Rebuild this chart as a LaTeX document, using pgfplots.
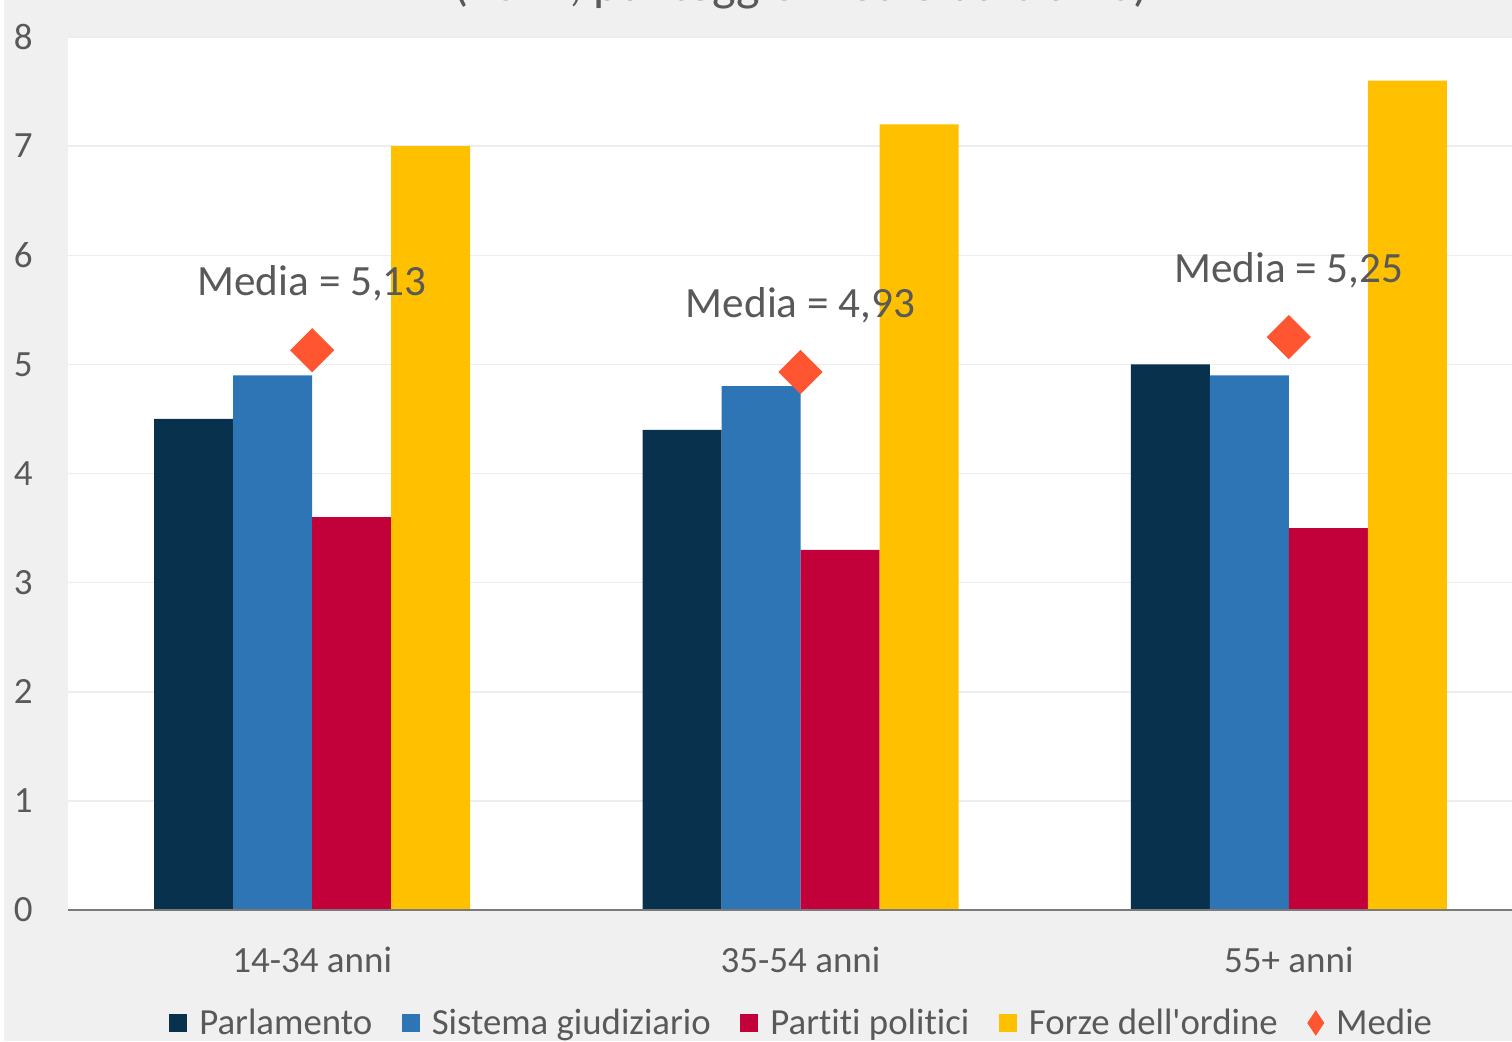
\documentclass[border=0pt]{standalone}
\usepackage{pgfplots}
\pgfplotsset{compat=1.18}
\usepackage{fontspec}
\setmainfont{Carlito}[Ligatures={NoCommon,TeXOff}]

\definecolor{cParl}{HTML}{07314C}
\definecolor{cSist}{HTML}{2E75B6}
\definecolor{cPart}{HTML}{C20039}
\definecolor{cForz}{HTML}{FFC000}
\definecolor{cMed}{HTML}{FF5530}
\definecolor{bggray}{HTML}{F0F0F0}
\definecolor{txtgray}{HTML}{595959}
\definecolor{gridgray}{HTML}{EDEDED}
\definecolor{axisgray}{HTML}{7A7A7A}

\begin{document}
\begin{tikzpicture}
% sfondo grigio della figura
\fill[bggray] (0,0) rectangle (756pt,520.5pt);
\fill[white] (0,0) rectangle (2pt,520.5pt);

\begin{axis}[
    at={(34pt,65.5pt)}, anchor=south west,
    scale only axis, width=732.5pt, height=436.5pt,
    xmin=-0.5, xmax=2.5, ymin=0, ymax=8,
    axis background/.style={fill=white},
    axis line style={draw=none},
    major tick length=0pt,
    xtick={0,1,2},
    xticklabels={14-34 anni,35-54 anni,55+ anni},
    ytick={0,1,...,8},
    ymajorgrids,
    grid style={line width=0.75pt, color=gridgray},
    /pgf/number format/assume math mode=true,
    tick label style={font=\fontsize{18.5}{22}\selectfont, text=txtgray},
    xticklabel style={anchor=base, inner sep=0pt, yshift=-31pt},
    yticklabel style={anchor=east, inner sep=0pt, xshift=-17.5pt},
    legend columns=5,
    legend style={
        at={(0.0689,-0.1294)}, anchor=west,
        draw=none, fill=none, inner sep=0pt,
        font=\fontsize{18.4}{22}\selectfont, text=txtgray,
        nodes={inner sep=0pt},
        /tikz/every odd column/.append style={column sep=6pt},
        /tikz/every even column/.append style={column sep=14.8pt},
    },
]

%%%%%%%%%% Parlamento %%%%%%%%%%
\addplot[ybar, bar width=39.5pt, bar shift=-59.25pt, fill=cParl, draw=none,
    legend image code/.code={\fill[cParl] (0pt,-4.5pt) rectangle (9pt,4.5pt);}]
    coordinates {(0,4.5) (1,4.4) (2,5.0)};
\addlegendentry{Parlamento}

%%%%%%%%%% Sistema giudiziario %%%%%%%%%%
\addplot[ybar, bar width=39.5pt, bar shift=-19.75pt, fill=cSist, draw=none,
    legend image code/.code={\fill[cSist] (0pt,-4.5pt) rectangle (9pt,4.5pt);}]
    coordinates {(0,4.9) (1,4.8) (2,4.9)};
\addlegendentry{Sistema giudiziario}

%%%%%%%%%% Partiti politici %%%%%%%%%%
\addplot[ybar, bar width=39.5pt, bar shift=19.75pt, fill=cPart, draw=none,
    legend image code/.code={\fill[cPart] (0pt,-4.5pt) rectangle (9pt,4.5pt);}]
    coordinates {(0,3.6) (1,3.3) (2,3.5)};
\addlegendentry{Partiti politici}

%%%%%%%%%% Forze dell'ordine %%%%%%%%%%
\addplot[ybar, bar width=39.5pt, bar shift=59.25pt, fill=cForz, draw=none,
    legend image code/.code={\fill[cForz] (0pt,-4.5pt) rectangle (9pt,4.5pt);}]
    coordinates {(0,7.0) (1,7.2) (2,7.6)};
\addlegendentry{Forze dell'ordine}

%%%%%%%%%% Medie %%%%%%%%%%
\addplot[only marks, mark=square*, mark size=7.6pt,
    mark options={rotate=45, fill=cMed, draw=none}, color=cMed,
    legend image code/.code={\fill[cMed] (4pt,6pt) -- (8pt,0pt) -- (4pt,-6pt) -- (0pt,0pt) -- cycle;}]
    coordinates {(0,5.13) (1,4.93) (2,5.25)};
\addlegendentry{Medie}

% asse orizzontale
\draw[axisgray, line width=1.25pt] (axis cs:-0.5,0) -- (axis cs:2.5,0);

% etichette delle medie
\node[font=\fontsize{21.6}{25}\selectfont, text=txtgray, yshift=33.5pt] at (axis cs:0,5.13) {Media = 5,13};
\node[font=\fontsize{21.6}{25}\selectfont, text=txtgray, yshift=33.5pt] at (axis cs:1,4.93) {Media = 4,93};
\node[font=\fontsize{21.6}{25}\selectfont, text=txtgray, yshift=33.5pt] at (axis cs:2,5.25) {Media = 5,25};
\end{axis}

% titolo tagliato in alto
\node[anchor=base, font=\fontsize{25}{30}\selectfont, text=txtgray] at (400.5pt,520.2pt)
    {(2024, punteggio medio da 0 a 10)};

\pgfresetboundingbox
\useasboundingbox (0,0) rectangle (756pt,520.5pt);
\end{tikzpicture}
\end{document}
